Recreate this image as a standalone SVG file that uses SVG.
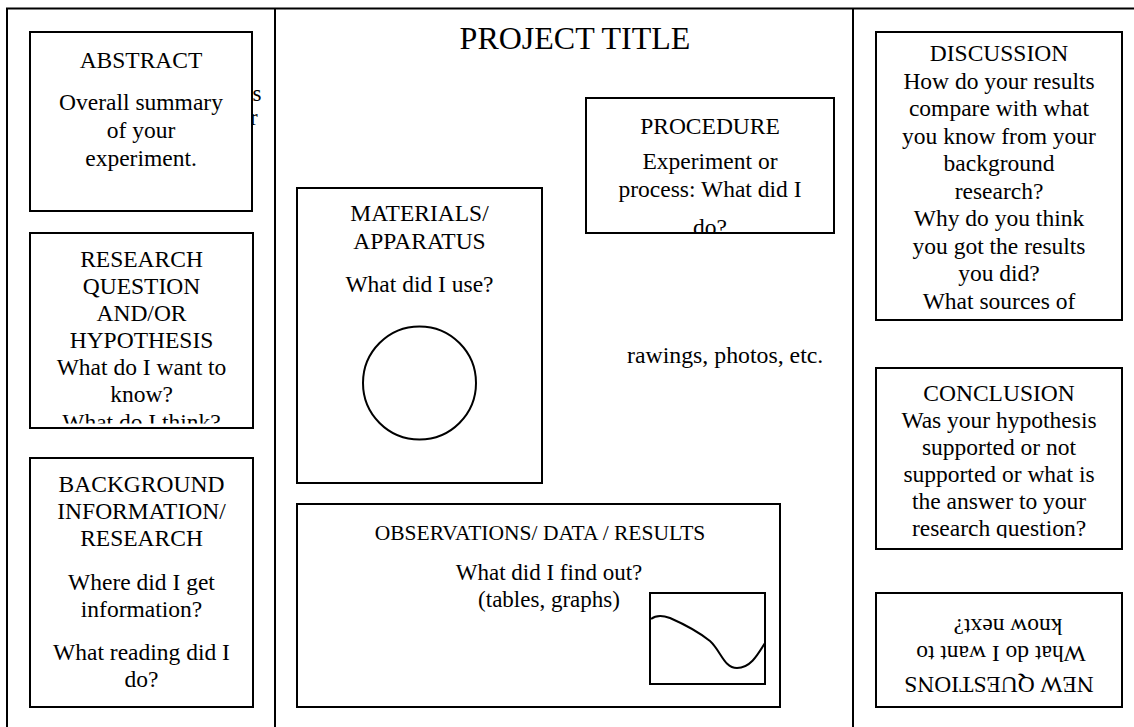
<svg xmlns="http://www.w3.org/2000/svg" width="1134" height="727" viewBox="0 0 1134 727">
<style>
.frame{stroke:#000;stroke-width:2;fill:none}
.box{fill:#fff;stroke:#000;stroke-width:2}
.t{font-family:"Liberation Serif","Times New Roman",serif;font-size:23.5px;fill:#000;text-anchor:middle}
.o{font-family:"Liberation Serif","Times New Roman",serif;font-size:21.5px;fill:#000;text-anchor:middle}
.s{font-family:"Liberation Serif","Times New Roman",serif;font-size:23px;fill:#000}
.ttl{font-family:"Liberation Serif","Times New Roman",serif;font-size:32px;fill:#000;text-anchor:middle}
.ln{fill:none;stroke:#000;stroke-width:2}
</style>
<defs>
<clipPath id="cpResearch"><rect x="30" y="233" width="223" height="190.5"/></clipPath>
<clipPath id="cpProc"><rect x="586" y="98" width="248" height="134.5"/></clipPath>
<clipPath id="cpConc"><rect x="876" y="368" width="246" height="170"/></clipPath>
</defs>
<rect width="1134" height="727" fill="#fff"/>
<g id="layout">
<line class="frame" x1="6" y1="8.5" x2="1134" y2="8.5"/>
<line class="frame" x1="7" y1="8" x2="7" y2="727"/>
<line class="frame" x1="275" y1="8" x2="275" y2="727"/>
<line class="frame" x1="853" y1="8" x2="853" y2="727"/>
</g>
<g id="hidden-text">
<text class="s" x="252.5" y="101">s</text>
<text class="s" x="250" y="125">r</text>
</g>
<g id="abstract">
<rect class="box" x="30" y="32" width="222" height="179"/>
<text class="t" x="141" y="68">ABSTRACT</text>
<text class="t" x="141" y="110">Overall summary</text>
<text class="t" x="141" y="138">of your</text>
<text class="t" x="141" y="166">experiment.</text>
</g>
<g id="research">
<rect class="box" x="30" y="233" width="223" height="195"/>
<g clip-path="url(#cpResearch)">
<text class="t" x="141.5" y="267">RESEARCH</text>
<text class="t" x="141.5" y="294">QUESTION</text>
<text class="t" x="141.5" y="321">AND/OR</text>
<text class="t" x="141.5" y="348">HYPOTHESIS</text>
<text class="t" x="141.5" y="375">What do I want to</text>
<text class="t" x="141.5" y="402">know?</text>
<text class="t" x="141.5" y="429.5">What do I think?</text>
</g>
</g>
<g id="background">
<rect class="box" x="30" y="458" width="223" height="249"/>
<text class="t" x="141.5" y="492">BACKGROUND</text>
<text class="t" x="141.5" y="519">INFORMATION/</text>
<text class="t" x="141.5" y="546">RESEARCH</text>
<text class="t" x="141.5" y="590">Where did I get</text>
<text class="t" x="141.5" y="617">information?</text>
<text class="t" x="141.5" y="660">What reading did I</text>
<text class="t" x="141.5" y="687">do?</text>
</g>
<g id="title">
<text class="ttl" x="575" y="49">PROJECT TITLE</text>
</g>
<g id="procedure">
<rect class="box" x="586" y="98" width="248" height="135"/>
<g clip-path="url(#cpProc)">
<text class="t" x="710" y="134">PROCEDURE</text>
<text class="t" x="710" y="169">Experiment or</text>
<text class="t" x="710" y="197">process: What did I</text>
<text class="t" x="710" y="235">do?</text>
</g>
</g>
<g id="materials">
<rect class="box" x="297" y="188" width="245" height="295"/>
<text class="t" x="419.5" y="221">MATERIALS/</text>
<text class="t" x="419.5" y="249">APPARATUS</text>
<text class="t" x="419.5" y="292">What did I use?</text>
<circle class="ln" cx="419.5" cy="383" r="56.5"/>
</g>
<g id="drawings">
<text class="s" x="627" y="363" style="font-size:23.8px">rawings, photos, etc.</text>
</g>
<g id="observations">
<rect class="box" x="297" y="504" width="483" height="203"/>
<text class="o" x="540" y="540">OBSERVATIONS/ DATA / RESULTS</text>
<text class="o" x="549" y="580" style="font-size:23px">What did I find out?</text>
<text class="o" x="549" y="607" style="font-size:23px">(tables, graphs)</text>
<rect class="box" x="650" y="593" width="115" height="91"/>
<path class="ln" d="M651,619 C656,615 662,615 670,618 C686,625 700,633 710,641 C721,651 724,668 737,668 C750,668 757,656 765,643"/>
</g>
<g id="discussion">
<rect class="box" x="876" y="32" width="246" height="288"/>
<text class="t" x="999" y="61">DISCUSSION</text>
<text class="t" x="999" y="88.5">How do your results</text>
<text class="t" x="999" y="116">compare with what</text>
<text class="t" x="999" y="143.5">you know from your</text>
<text class="t" x="999" y="171">background</text>
<text class="t" x="999" y="198.5">research?</text>
<text class="t" x="999" y="226">Why do you think</text>
<text class="t" x="999" y="253.5">you got the results</text>
<text class="t" x="999" y="281">you did?</text>
<text class="t" x="999" y="308.5">What sources of</text>
</g>
<g id="conclusion">
<rect class="box" x="876" y="368" width="246" height="181"/>
<g clip-path="url(#cpConc)">
<text class="t" x="999" y="401">CONCLUSION</text>
<text class="t" x="999" y="428">Was your hypothesis</text>
<text class="t" x="999" y="455">supported or not</text>
<text class="t" x="999" y="482">supported or what is</text>
<text class="t" x="999" y="509">the answer to your</text>
<text class="t" x="999" y="536">research question?</text>
</g>
</g>
<g id="new-questions">
<rect class="box" x="876" y="593" width="246" height="114"/>
<g transform="rotate(180 999 650)">
<text class="t" x="999" y="623">NEW QUESTIONS</text>
<text class="t" x="997" y="654">What do I want to</text>
<text class="t" x="990" y="681">know next?</text>
</g>
</g>
<g id="connectors"/>
</svg>
